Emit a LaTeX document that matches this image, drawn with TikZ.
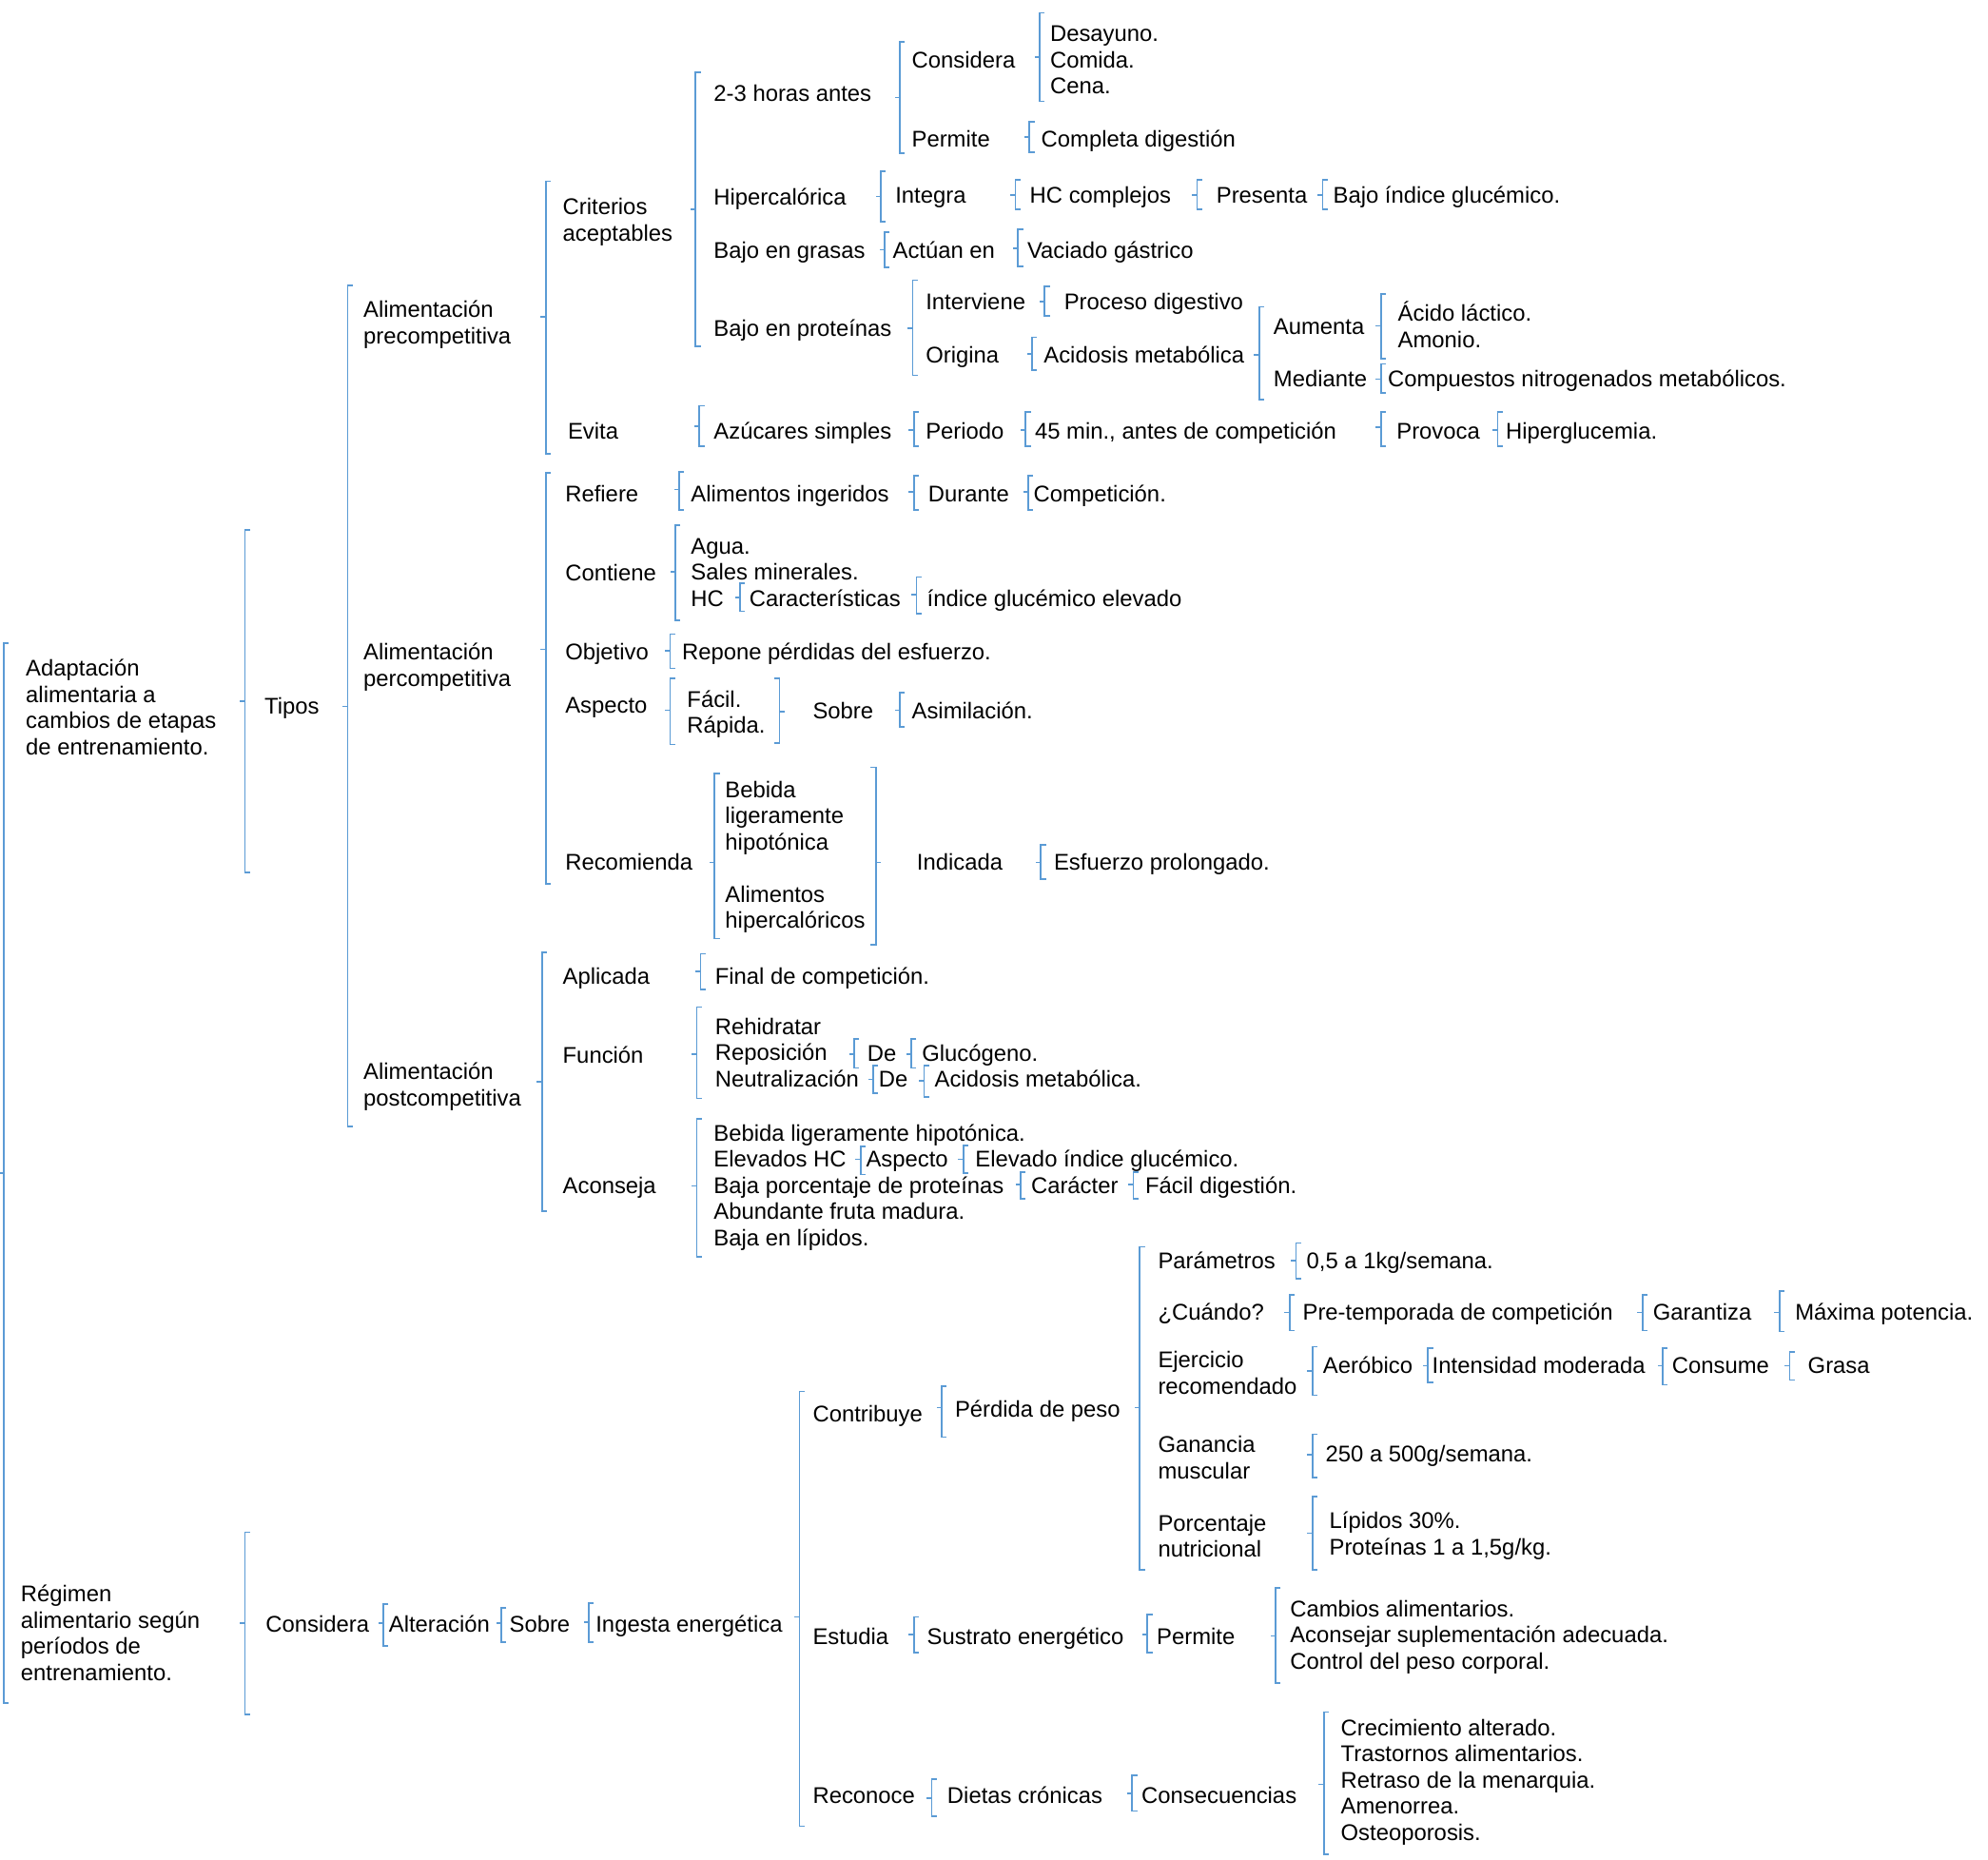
\documentclass[tikz,border=0pt]{standalone}
\usepackage{fontspec}
\setmainfont{Liberation Sans}
\definecolor{azul}{RGB}{91,155,213}
% llave: x, top, bottom, tick
\newcommand{\llave}[4]{\draw[brk] (#1+4,#2) -- (#1,#2) -- (#1,#3) -- (#1+4,#3); \draw[brk] (#1,#4) -- (#1-4,#4);}
\newcommand{\llaveder}[4]{\draw[brk] (#1-4,#2) -- (#1,#2) -- (#1,#3) -- (#1-4,#3); \draw[brk] (#1,#4) -- (#1+4,#4);}
\begin{document}
\begin{tikzpicture}[x=0.498pt,y=-0.4975pt,
  lbl/.style={anchor=base west, inner sep=0pt, align=left, font=\fontsize{8.9}{10.25}\selectfont},
  brk/.style={azul, line width=0.6pt}]
\useasboundingbox (0pt,0pt) rectangle (780pt,-729.5pt);

% root
\node[lbl] (adapt) at (20,595) {Adaptación\\alimentaria a\\cambios de etapas\\de entrenamiento.};
\node[lbl] (regimen) at (16,1325) {Régimen\\alimentario según\\períodos de\\entrenamiento.};
\llave{3}{507}{1343}{925}

% tipos
\node[lbl] (tipos) at (208,563) {Tipos};
\llave{193}{418}{688}{553}
\node[lbl] (pre) at (286,271) {Alimentación\\precompetitiva};
\node[lbl] (per) at (286,541) {Alimentación\\percompetitiva};
\node[lbl] (post) at (286,872) {Alimentación\\postcompetitiva};
\llave{274}{225}{888}{557}

% precompetitiva
\node[lbl] (crit) at (443,190) {Criterios\\aceptables};
\node[lbl] (evita) at (447,346) {Evita};
\llave{430}{143}{358}{250}
\node[lbl] (horas) at (562,80) {2-3 horas antes};
\node[lbl] (hiper) at (562,162) {Hipercalórica};
\node[lbl] (grasas) at (562,204) {Bajo en grasas};
\node[lbl] (prot) at (562,265) {Bajo en proteínas};
\llave{548}{57}{273}{165}
\node[lbl] (consid) at (718,54) {Considera};
\node[lbl] (permite) at (718,116) {Permite};
\llave{709}{33}{121}{77}
\node[lbl] (comidas) at (827,74) {Desayuno.\\Comida.\\Cena.};
\llave{819}{10}{80}{45}
\node[lbl] (digest) at (820,116) {Completa digestión};
\llave{811}{96}{120}{108}
\node[lbl] (integra) at (705,160) {Integra};
\llave{694}{135}{175}{155}
\node[lbl] (hccomp) at (811,160) {HC complejos};
\llave{800}{142}{165}{154}
\node[lbl] (presenta) at (958,160) {Presenta};
\llave{943}{142}{165}{154}
\node[lbl] (bajoig) at (1050,160) {Bajo índice glucémico.};
\llave{1042}{142}{165}{154}
\node[lbl] (actuan) at (703,204) {Actúan en};
\llave{697}{183}{211}{197}
\node[lbl] (vaciado) at (809,204) {Vaciado gástrico};
\llave{802}{181}{210}{196}
\node[lbl] (interv) at (729,244) {Interviene};
\node[lbl] (origina) at (729,286) {Origina};
\llave{719}{221}{296}{259}
\node[lbl] (proceso) at (838,244) {Proceso digestivo};
\llave{823}{226}{249}{238}
\node[lbl] (acidosis) at (822,286) {Acidosis metabólica};
\llave{813}{266}{292}{279}
\node[lbl] (aumenta) at (1003,264) {Aumenta};
\node[lbl] (mediante) at (1003,305) {Mediante};
\llave{992}{242}{315}{280}
\node[lbl] (acido) at (1101,274) {Ácido láctico.\\Amonio.};
\llave{1088}{232}{283}{257}
\node[lbl] (compuestos) at (1093,305) {Compuestos nitrogenados metabólicos.};
\llave{1088}{287}{310}{299}
\node[lbl] (azucares) at (562,346) {Azúcares simples};
\llave{551}{320}{352}{336}
\node[lbl] (periodo) at (729,346) {Periodo};
\llave{720}{325}{352}{339}
\node[lbl] (min45) at (815,346) {45 min., antes de competición};
\llave{808}{325}{352}{339}
\node[lbl] (provoca) at (1100,346) {Provoca};
\llave{1088}{325}{352}{337}
\node[lbl] (hiperg) at (1186,346) {Hiperglucemia.};
\llave{1180}{325}{352}{339}

% percompetitiva
\node[lbl] (refiere) at (445,396) {Refiere};
\node[lbl] (contiene) at (445,458) {Contiene};
\node[lbl] (objetivo) at (445,520) {Objetivo};
\node[lbl] (aspecto) at (445,562) {Aspecto};
\node[lbl] (recomienda) at (445,686) {Recomienda};
\llave{430}{373}{697}{512}
\node[lbl] (ingeridos) at (544,396) {Alimentos ingeridos};
\llave{535}{372}{402}{386}
\node[lbl] (durante) at (731,396) {Durante};
\llave{720}{375}{402}{388}
\node[lbl] (competicion) at (814,396) {Competición.};
\llave{810}{375}{402}{388}
\node[lbl] (agua) at (544,478) {Agua.\\Sales minerales.\\HC};
\llave{532}{414}{489}{451}
\node[lbl] (caract) at (590,478) {Características};
\llave{583}{460}{482}{471}
\node[lbl] (indice) at (730,478) {índice glucémico elevado};
\llave{722}{455}{484}{469}
\node[lbl] (repone) at (537,520) {Repone pérdidas del esfuerzo.};
\llave{528}{500}{527}{513}
\node[lbl] (facil) at (541,578) {Fácil.\\Rápida.};
\llave{528}{535}{587}{560}
\llaveder{614}{535}{586}{561}
\node[lbl] (sobre) at (640,567) {Sobre};
\node[lbl] (asimil) at (718,567) {Asimilación.};
\llave{709}{546}{573}{560}
\node[lbl] (bebida) at (571,732) {Bebida\\ligeramente\\hipotónica\\[10.25pt]Alimentos\\hipercalóricos};
\llave{563}{610}{740}{680}
\llaveder{690}{605}{745}{680}
\node[lbl] (indicada) at (722,686) {Indicada};
\node[lbl] (esfuerzo) at (830,686) {Esfuerzo prolongado.};
\llave{820}{666}{693}{680}

% postcompetitiva
\node[lbl] (aplicada) at (443,776) {Aplicada};
\node[lbl] (funcion) at (443,838) {Función};
\node[lbl] (aconseja) at (443,941) {Aconseja};
\llave{427}{751}{955}{853}
\node[lbl] (final) at (563,776) {Final de competición.};
\llave{552}{752}{780}{766}
\node[lbl] (rehid) at (563,857) {Rehidratar\\Reposición\\Neutralización};
\llave{549}{794}{866}{831}
\node[lbl] (deA) at (683,837) {De};
\llave{673}{819}{842}{831}
\node[lbl] (gluc) at (726,837) {Glucógeno.};
\llave{718}{819}{842}{831}
\node[lbl] (deB) at (692,857) {De};
\llave{688}{840}{862}{851}
\node[lbl] (acidB) at (736,857) {Acidosis metabólica.};
\llave{728}{840}{865}{852}
\node[lbl] (consejos) at (562,982) {Bebida ligeramente hipotónica.\\Elevados HC\\Baja porcentaje de proteínas\\Abundante fruta madura.\\Baja en lípidos.};
\llave{549}{882}{991}{935}
\node[lbl] (aspectoB) at (682,920) {Aspecto};
\llave{678}{904}{926}{914}
\node[lbl] (elevado) at (768,920) {Elevado índice glucémico.};
\llave{759}{903}{925}{914}
\node[lbl] (caracter) at (812,941) {Carácter};
\llave{804}{924}{945}{934}
\node[lbl] (facildig) at (902,941) {Fácil digestión.};
\llave{893}{924}{945}{934}

% regimen
\node[lbl] (consideraB) at (209,1287) {Considera};
\llave{193}{1208}{1352}{1280}
\node[lbl] (alteracion) at (306,1287) {Alteración};
\llave{302}{1265}{1298}{1280}
\node[lbl] (sobreB) at (401,1287) {Sobre};
\llave{395}{1268}{1295}{1280}
\node[lbl] (ingesta) at (469,1287) {Ingesta energética};
\llave{464}{1264}{1295}{1279}
\node[lbl] (contribuye) at (640,1121) {Contribuye};
\node[lbl] (estudia) at (640,1297) {Estudia};
\node[lbl] (reconoce) at (640,1422) {Reconoce};
\llave{630}{1097}{1440}{1275}
\node[lbl] (perdida) at (752,1117) {Pérdida de peso};
\llave{742}{1093}{1133}{1110}
\node[lbl] (param) at (912,1000) {Parámetros};
\node[lbl] (cuando) at (912,1041) {¿Cuándo?};
\node[lbl] (ejercicio) at (912,1099) {Ejercicio\\recomendado};
\node[lbl] (ganancia) at (912,1166) {Ganancia\\muscular};
\node[lbl] (porcentaje) at (912,1228) {Porcentaje\\nutricional};
\llave{898}{983}{1238}{1110}
\node[lbl] (semanaA) at (1029,1000) {0,5 a 1kg/semana.};
\llave{1021}{980}{1008}{994}
\node[lbl] (pretemp) at (1026,1041) {Pre-temporada de competición};
\llave{1016}{1021}{1049}{1035}
\node[lbl] (garantiza) at (1302,1041) {Garantiza};
\llave{1294}{1021}{1049}{1035}
\node[lbl] (maxima) at (1414,1041) {Máxima potencia.};
\llave{1402}{1018}{1050}{1035}
\node[lbl] (aerobico) at (1042,1083) {Aeróbico};
\llave{1034}{1062}{1100}{1081}
\node[lbl] (intensidad) at (1128,1083) {Intensidad moderada};
\llave{1125}{1063}{1090}{1077}
\node[lbl] (consume) at (1317,1083) {Consume};
\llave{1310}{1063}{1092}{1077}
\node[lbl] (grasa) at (1424,1083) {Grasa};
\llave{1410}{1066}{1088}{1077}
\node[lbl] (semanaB) at (1044,1153) {250 a 500g/semana.};
\llave{1034}{1131}{1165}{1147}
\node[lbl] (lipidos) at (1047,1226) {Lípidos 30\%.\\Proteínas 1 a 1,5g/kg.};
\llave{1034}{1180}{1238}{1209}
\node[lbl] (sustrato) at (730,1297) {Sustrato energético};
\llave{720}{1275}{1303}{1289}
\node[lbl] (permiteB) at (911,1297) {Permite};
\llave{904}{1273}{1303}{1289}
\node[lbl] (cambios) at (1016,1316) {Cambios alimentarios.\\Aconsejar suplementación adecuada.\\Control del peso corporal.};
\llave{1005}{1252}{1327}{1290}
\node[lbl] (dietas) at (746,1422) {Dietas crónicas};
\llave{734}{1403}{1432}{1418}
\node[lbl] (consec) at (899,1422) {Consecuencias};
\llave{892}{1400}{1428}{1414}
\node[lbl] (crecim) at (1056,1451) {Crecimiento alterado.\\Trastornos alimentarios.\\Retraso de la menarquia.\\Amenorrea.\\Osteoporosis.};
\llave{1043}{1350}{1462}{1407}
\end{tikzpicture}
\end{document}
